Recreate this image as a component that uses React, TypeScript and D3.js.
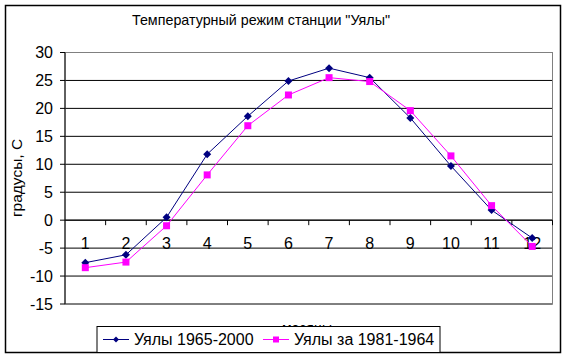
import * as d3 from "d3";

const months = ["1", "2", "3", "4", "5", "6", "7", "8", "9", "10", "11", "12"];
const series1965 = [-7.6, -6.2, 0.5, 11.8, 18.6, 24.9, 27.2, 25.5, 18.3, 9.7, 1.8, -3.2];
const series1981 = [-8.5, -7.5, -1.0, 8.1, 16.9, 22.4, 25.5, 24.8, 19.6, 11.5, 2.6, -4.7];
const yTicks = [-15, -10, -5, 0, 5, 10, 15, 20, 25, 30];

const seriesInfo = [
  { name: "Уялы 1965-2000", values: series1965, color: "#000080", marker: "diamond" },
  { name: "Уялы за 1981-1964", values: series1981, color: "#FF00FF", marker: "square" },
];

const W = 567;
const H = 359;
const font = "'Liberation Sans', Arial, sans-serif";

export default function App() {
  // plot area
  const left = 65;
  const right = 552.5;
  const top = 52.5;
  const bottom = 304;

  const x = d3.scaleBand<string>().domain(months).range([left, right]);
  const y = d3.scaleLinear().domain([-15, 30]).range([bottom, top]);

  const line = d3
    .line<number>()
    .x((_, i) => x(months[i])! + x.bandwidth() / 2)
    .y((d) => y(d));

  const marker = (kind: string, cx: number, cy: number, color: string, key: string | number) =>
    kind === "diamond" ? (
      <path key={key} d={`M${cx},${cy - 4}L${cx + 4},${cy}L${cx},${cy + 4}L${cx - 4},${cy}Z`} fill={color} />
    ) : (
      <rect key={key} x={cx - 3.5} y={cy - 3.5} width={7} height={7} fill={color} />
    );

  const zeroY = y(0);

  return (
    <svg width={W} height={H} style={{ position: "absolute", left: 0, top: 0 }} fontFamily={font}>
      <rect x={0} y={0} width={W} height={H} fill="#fff" />
      <rect x={5.5} y={5.5} width={555} height={347} fill="none" stroke="#000" strokeWidth={1.5} />

      <text x={261} y={25} textAnchor="middle" fontSize={14.3}>
        Температурный режим станции "Уялы"
      </text>

      {/* gridlines */}
      {yTicks.map((t) => (
        <line key={t} x1={left} x2={right} y1={y(t)} y2={y(t)} stroke="#000" strokeWidth={1} />
      ))}
      <rect x={left} y={top} width={right - left} height={bottom - top} fill="none" stroke="#808080" />
      <line x1={left} x2={left} y1={top} y2={bottom} stroke="#000" />

      {/* y axis */}
      {yTicks.map((t) => (
        <g key={t}>
          <line x1={left - 5} x2={left} y1={y(t)} y2={y(t)} stroke="#000" />
          <text x={53} y={y(t)} dy="0.36em" textAnchor="end" fontSize={16}>
            {t}
          </text>
        </g>
      ))}
      <text transform={`translate(22,178) rotate(-90)`} textAnchor="middle" fontSize={15.5}>
        градусы, С
      </text>

      {/* x axis at zero */}
      <line x1={left} x2={right} y1={zeroY} y2={zeroY} stroke="#000" />
      {months.map((m) => (
        <g key={m}>
          <line x1={x(m)! + x.bandwidth()} x2={x(m)! + x.bandwidth()} y1={zeroY} y2={zeroY + 5} stroke="#000" />
          <text x={x(m)! + x.bandwidth() / 2} y={243} dy="0.36em" textAnchor="middle" fontSize={16}>
            {m}
          </text>
        </g>
      ))}

      {/* series */}
      {seriesInfo.map((s) => (
        <g key={s.name}>
          <path d={line(s.values)!} fill="none" stroke={s.color} strokeWidth={1} />
          {s.values.map((v, i) => marker(s.marker, x(months[i])! + x.bandwidth() / 2, y(v), s.color, i))}
        </g>
      ))}

      <text x={307} y={333} textAnchor="middle" fontSize={14}>
        месяцы
      </text>

      {/* legend */}
      <rect x={97} y={326.5} width={343} height={26} fill="#fff" stroke="#000" />
      {seriesInfo.map((s, i) => {
        const lx = i === 0 ? 103 : 263;
        const ly = 339.5;
        return (
          <g key={s.name}>
            <line x1={lx} x2={lx + 26} y1={ly} y2={ly} stroke={s.color} />
            {s.marker === "diamond" ? (
              <path d={`M${lx + 13},${ly - 3}L${lx + 16},${ly}L${lx + 13},${ly + 3}L${lx + 10},${ly}Z`} fill={s.color} />
            ) : (
              <rect x={lx + 10} y={ly - 3} width={6} height={6} fill={s.color} />
            )}
            <text x={lx + 31} y={ly} dy="0.36em" fontSize={16}>
              {s.name}
            </text>
          </g>
        );
      })}
    </svg>
  );
}
